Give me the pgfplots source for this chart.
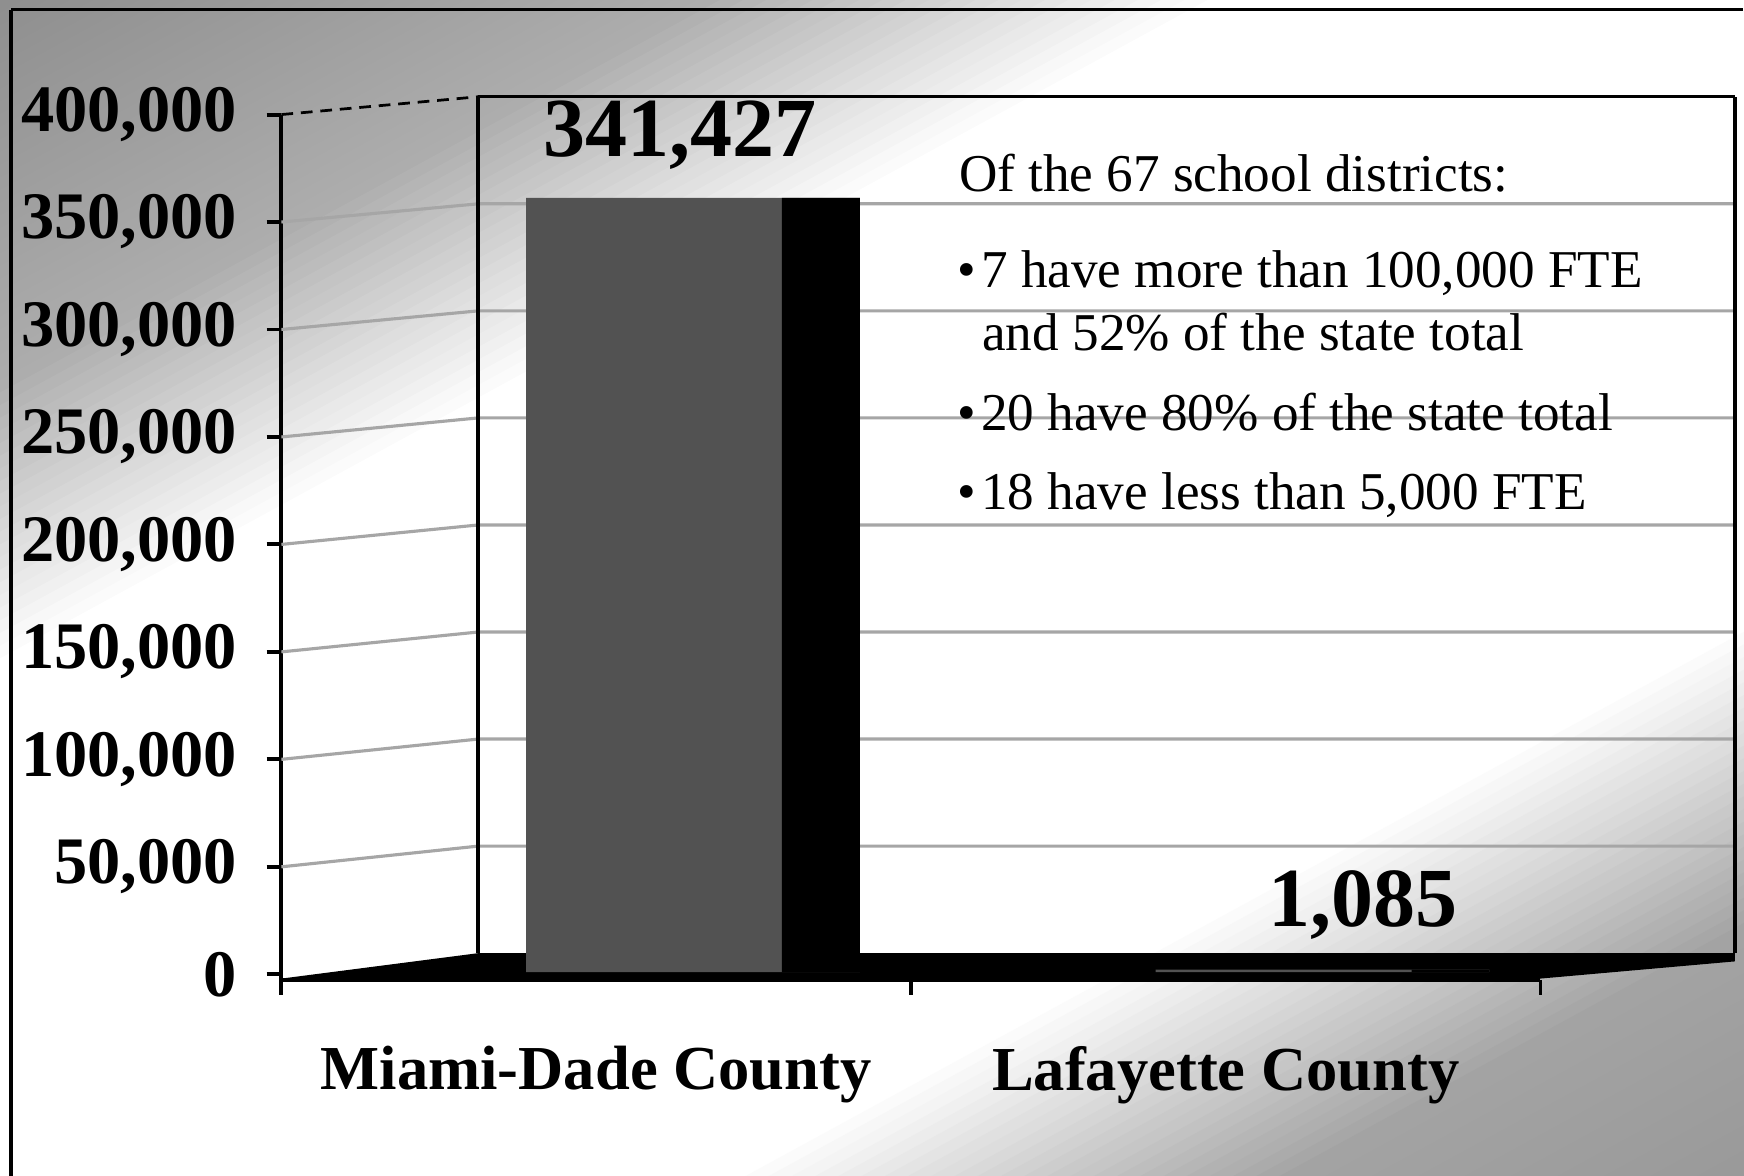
\documentclass[border=0pt]{standalone}
\usepackage{pgfplots}
\pgfplotsset{compat=1.18}
\usepackage{fontspec}
\setmainfont{Liberation Serif}
\definecolor{barfront}{HTML}{525252}
\definecolor{gridc}{HTML}{A6A6A6}
\newcommand{\Pt}[2]{({#1*0.01},{(1057-#2)*0.01})}
\begin{document}
\begin{tikzpicture}
\useasboundingbox (0,0) rectangle (15.68,10.57);
\begin{scope}
\clip (0,0) rectangle (15.68,10.57);
\begin{scope}[shift={(0,10.57)}, rotate=-61.4]
\foreach \t in {0,10,...,1700} {
  \pgfmathsetmacro\pct{\t<300 ? 44-\t/300*12 : (\t<520 ? (520-\t)/220*32 : (\t<1240 ? 0 : (\t<1480 ? (\t-1240)/240*36 : 36+(\t-1480)/200*4)))}
  \fill[black!\pct] ({\t*0.01},-30) rectangle ({(\t+11)*0.01},30);
}
\end{scope}
\end{scope}
\draw[black, line width=1pt] \Pt{10}{8} -- \Pt{1568}{8};
\draw[black, line width=1pt] \Pt{10}{8} -- \Pt{10}{1057};

\begin{axis}[
  at={(2.53cm,1.762cm)}, anchor=south west,
  scale only axis, width=11.32cm, height=7.778cm,
  xmin=0, xmax=2, ymin=-2500, ymax=400000,
  axis x line*=bottom, axis y line*=left,
  axis line style={line width=1pt, -},
  xtick={0,1,2}, xticklabels={,,},
  extra x ticks={0.5,1.5},
  extra x tick labels={Miami-Dade County,Lafayette County},
  extra x tick style={major tick length=0pt},
  xticklabel style={yshift=-13.5pt, font=\bfseries\fontsize{16}{16}\selectfont},
  ytick={0,50000,100000,150000,200000,250000,300000,350000,400000},
  yticklabel style={xshift=-4pt, font=\bfseries\fontsize{17}{17}\selectfont},
  tick align=outside, major tick length=3.8pt,
  tick style={black, line width=1pt},
  scaled y ticks=false,
  /pgf/number format/.cd, fixed, 1000 sep={,}, assume math mode=true,
  /pgfplots/.cd,
  clip=false,
]
 \draw[gridc, line width=0.8pt] (axis cs:0,50000) -- (axis cs:0.3127,59638) -- (axis cs:2.309,59638);
 \draw[gridc, line width=0.8pt] (axis cs:0,100000) -- (axis cs:0.3127,109444) -- (axis cs:2.309,109444);
 \draw[gridc, line width=0.8pt] (axis cs:0,150000) -- (axis cs:0.3127,159250) -- (axis cs:2.309,159250);
 \draw[gridc, line width=0.8pt] (axis cs:0,200000) -- (axis cs:0.3127,209056) -- (axis cs:2.309,209056);
 \draw[gridc, line width=0.8pt] (axis cs:0,250000) -- (axis cs:0.3127,258862) -- (axis cs:2.309,258862);
 \draw[gridc, line width=0.8pt] (axis cs:0,300000) -- (axis cs:0.3127,308668) -- (axis cs:2.309,308668);
 \draw[gridc, line width=0.8pt] (axis cs:0,350000) -- (axis cs:0.3127,358474) -- (axis cs:2.309,358474);
 \draw[black, line width=0.7pt, densely dashed] (axis cs:0,400000) -- (axis cs:0.3127,408280);
 \draw[black, line width=0.7pt] (axis cs:0.3127,408280) -- (axis cs:2.309,408280);
 \draw[black, line width=1pt] (axis cs:0.3127,9832) -- (axis cs:0.3127,408280);
 \draw[black, line width=1pt] (axis cs:2.309,9832) -- (axis cs:2.309,408280);
 \fill[black] (axis cs:0,-2000) -- (axis cs:0.3127,9832) -- (axis cs:2.309,9832) -- (axis cs:2.309,6000) -- (axis cs:2,-2000) -- cycle;
\end{axis}

\begin{axis}[
  at={(2.53cm,1.762cm)}, anchor=south west,
  scale only axis, width=11.32cm, height=7.778cm,
  xmin=0, xmax=2, ymin=-3336, ymax=378218,
  hide axis, clip=false,
]
\addplot[ybar, bar width=0.53, bar shift=0.1537, fill=barfront, draw=none] coordinates {(0.5,341427) (1.5,1085)};
\addplot[ybar, bar width=0.1237, bar shift=0.357, fill=black, draw=none] coordinates {(0.5,341427) (1.5,1085)};
\end{axis}

\node[anchor=base, inner sep=0, font=\bfseries\fontsize{21.5}{22}\selectfont] at \Pt{612}{140} {341,427};
\node[anchor=base, inner sep=0, font=\bfseries\fontsize{21.5}{22}\selectfont] at \Pt{1226}{833} {1,085};
\begin{scope}[every node/.style={anchor=base west, inner sep=0, font=\fontsize{13.6}{16}\selectfont}]
\node at \Pt{862}{172} {Of the 67 school districts:};
\node at \Pt{861}{258} {\textbullet\hspace{1.2pt}7 have more than 100,000 FTE};
\node at \Pt{883}{315} {and 52\% of the state total};
\node at \Pt{861}{387} {\textbullet\hspace{1.2pt}20 have 80\% of the state total};
\node at \Pt{861}{458} {\textbullet\hspace{1.2pt}18 have less than 5,000 FTE};
\end{scope}
\end{tikzpicture}
\end{document}
